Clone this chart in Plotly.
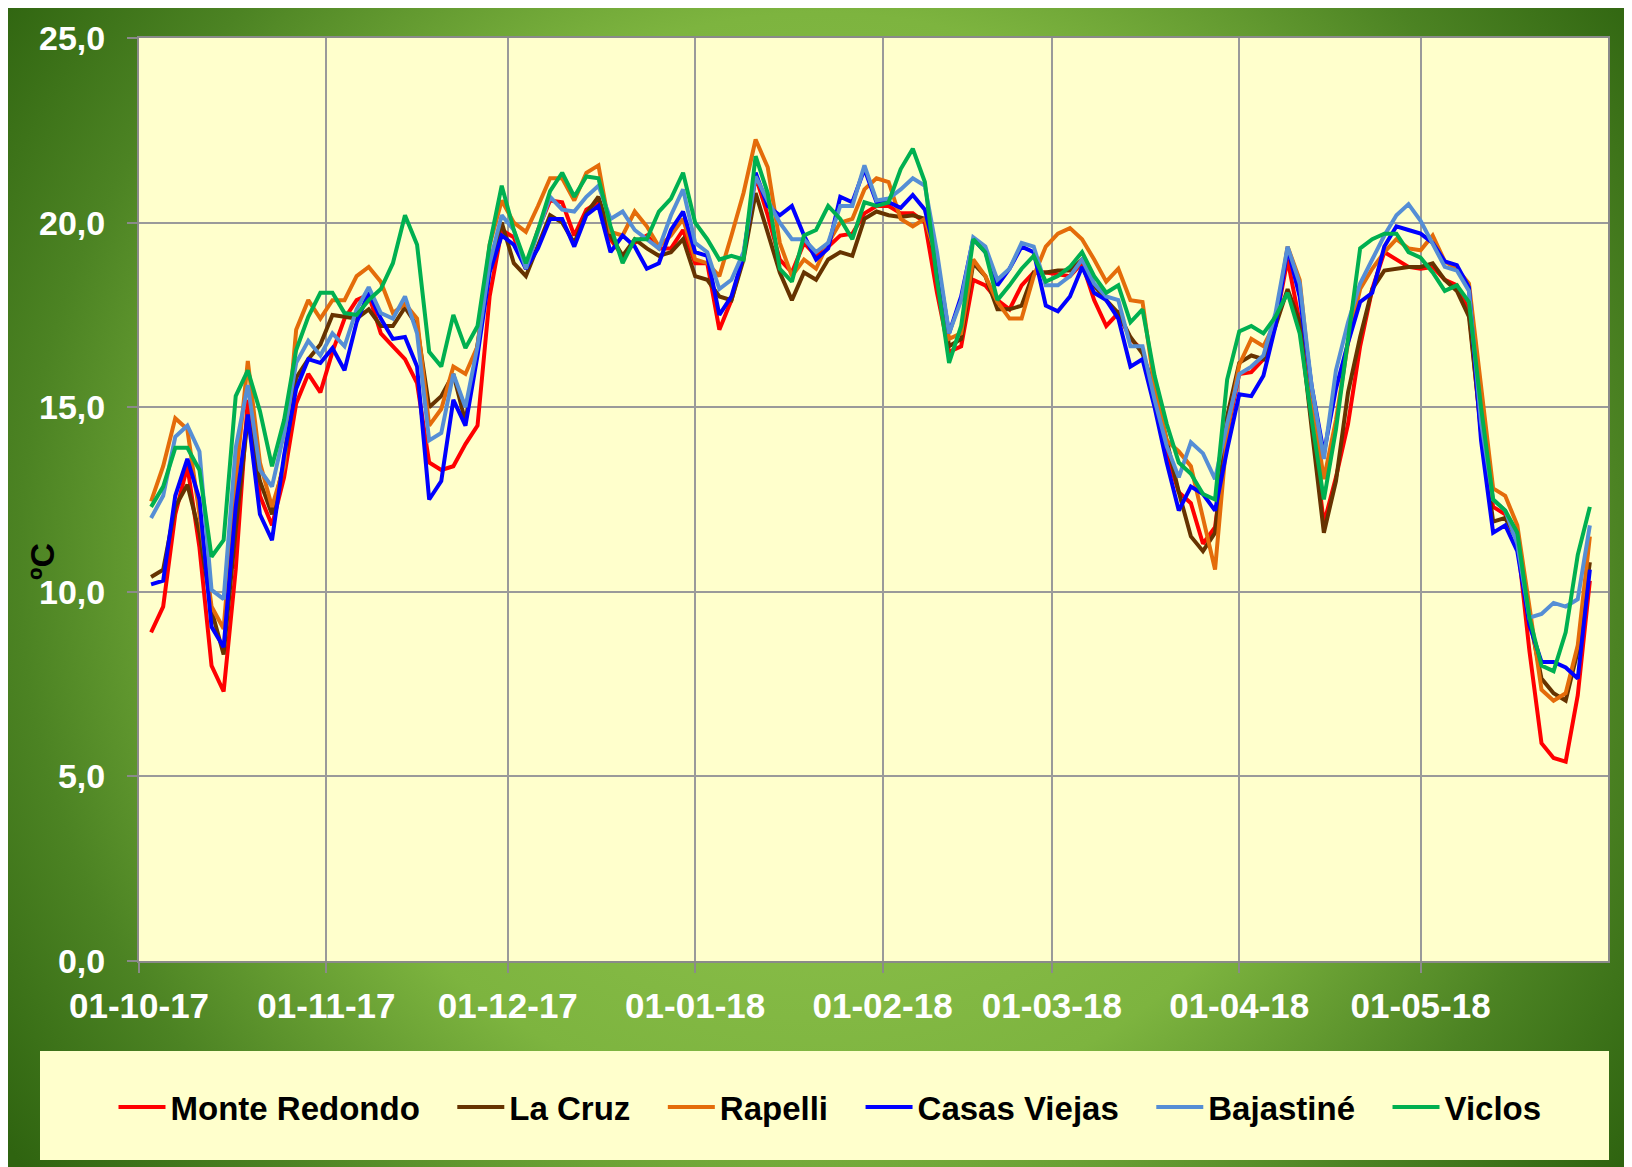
import base64
import pandas as pd
import plotly.graph_objects as go

# daily mean temperature, one reading every 2 days from 03-10-17 to 29-05-18
dates = pd.date_range("2017-10-03", periods=120, freq="2D")

monte_redondo = [
    8.9, 9.6, 12.1, 13.4, 11.2, 8.0, 7.3, 10.6, 15.2, 12.6, 11.8, 13.1, 15.1, 15.9, 15.4,
    16.5, 17.4, 17.9, 18.05, 17.0, 16.65, 16.3, 15.65, 13.5, 13.3, 13.4, 14.0, 14.5, 18.0, 19.8,
    19.6, 18.75, 19.8, 20.6, 20.55, 19.65, 20.35, 20.55, 19.55, 19.1, 19.45, 19.65, 19.3, 19.3, 19.8, 18.9,
    18.9, 17.1, 17.9, 19.1, 21.25, 20.2, 19.0, 18.65, 19.45, 19.1, 19.35, 19.65, 19.7, 20.25, 20.45,
    20.45, 20.25, 20.25, 20.0, 18.1, 16.5, 16.65, 18.45, 18.3, 17.9, 17.65, 18.3, 18.65, 18.65,
    18.6, 18.55, 18.9, 17.9, 17.2, 17.55, 16.85, 16.55, 15.2, 13.75, 12.7, 12.4, 11.3, 11.75, 14.3,
    15.9, 15.95, 16.3, 17.3, 19.0, 17.3, 14.5, 11.85, 13.1, 14.55, 16.65, 18.2, 19.2, 19.0, 18.8,
    18.75, 18.8, 18.45, 18.3, 17.6, 14.3, 12.3, 12.1, 11.4, 8.4, 5.9, 5.5, 5.4, 7.2, 10.3,
]
la_cruz = [
    10.4, 10.6, 12.3, 12.9, 11.6, 9.5, 8.3, 11.7, 14.7, 13.0, 12.1, 13.5, 15.8, 16.3, 16.7,
    17.5, 17.45, 17.4, 17.65, 17.2, 17.2, 17.7, 17.2, 15.0, 15.3, 15.9, 14.6, 16.65, 18.8, 20.0,
    18.9, 18.55, 19.4, 20.2, 20.0, 19.45, 20.25, 20.7, 19.65, 19.1, 19.55, 19.3, 19.1, 19.2, 19.55, 18.55,
    18.45, 18.0, 17.9, 19.0, 20.8, 19.7, 18.65, 17.9, 18.65, 18.45, 19.0, 19.2, 19.1, 20.1, 20.3,
    20.2, 20.15, 20.2, 20.1, 18.9, 16.65, 16.85, 18.9, 18.55, 17.65, 17.65, 17.75, 18.65, 18.65,
    18.7, 18.7, 19.0, 18.3, 17.9, 17.55, 16.9, 16.45, 15.5, 14.1, 12.7, 11.5, 11.1, 11.6, 14.75,
    16.2, 16.4, 16.3, 17.2, 18.2, 17.3, 14.4, 11.6, 13.0, 15.4, 16.9, 18.2, 18.7, 18.75, 18.8,
    18.8, 18.9, 18.45, 18.15, 17.45, 14.4, 11.9, 12.0, 11.4, 9.3, 7.65, 7.25, 7.05, 8.4, 10.8,
]
rapelli = [
    12.45, 13.4, 14.7, 14.4, 12.1, 9.6, 9.0, 13.0, 16.25, 13.5, 12.3, 13.4, 17.1, 17.9, 17.4,
    17.9, 17.9, 18.55, 18.8, 18.4, 17.55, 17.8, 17.4, 14.5, 14.95, 16.1, 15.9, 16.65, 19.4, 20.6,
    20.0, 19.75, 20.45, 21.2, 21.2, 20.6, 21.35, 21.55, 19.75, 19.65, 20.3, 19.9, 19.35, 19.65, 20.1, 19.0,
    18.9, 18.55, 19.65, 20.8, 22.25, 21.5, 19.45, 18.55, 19.0, 18.75, 19.45, 20.0, 20.1, 20.9, 21.2,
    21.1, 20.1, 19.9, 20.1, 19.0, 16.85, 17.0, 19.0, 18.55, 17.85, 17.4, 17.4, 18.55, 19.35,
    19.7, 19.85, 19.55, 19.0, 18.4, 18.75, 17.9, 17.85, 15.55, 14.1, 13.8, 13.4, 11.95, 10.6, 14.3,
    16.15, 16.85, 16.65, 17.3, 19.35, 18.45, 15.3, 13.05, 14.65, 16.75, 18.2, 18.75, 19.2, 19.55, 19.3,
    19.25, 19.65, 18.95, 18.75, 18.35, 15.6, 12.8, 12.6, 11.8, 9.6, 7.35, 7.05, 7.25, 8.55, 11.5,
]
casas_viejas = [
    10.2, 10.3, 12.6, 13.6, 12.5, 9.05, 8.5, 12.3, 14.8, 12.1, 11.4, 13.7, 15.5, 16.3, 16.2,
    16.6, 16.0, 17.3, 18.1, 17.4, 16.85, 16.9, 16.1, 12.5, 13.0, 15.2, 14.5, 16.4, 18.65, 19.65,
    19.4, 18.75, 19.3, 20.1, 20.1, 19.35, 20.2, 20.45, 19.2, 19.65, 19.35, 18.75, 18.9, 19.8, 20.3, 19.2,
    19.1, 17.5, 18.0, 19.1, 21.35, 20.45, 20.2, 20.45, 19.65, 19.0, 19.3, 20.7, 20.55, 21.45, 20.55,
    20.55, 20.4, 20.75, 20.35, 19.0, 17.0, 18.0, 19.55, 19.2, 18.3, 18.75, 19.35, 19.2, 17.75,
    17.6, 18.0, 18.8, 18.1, 17.9, 17.4, 16.1, 16.3, 15.0, 13.5, 12.2, 12.85, 12.65, 12.2, 13.85,
    15.35, 15.3, 15.85, 17.2, 19.3, 18.0, 15.55, 13.75, 15.5, 16.75, 17.85, 18.1, 19.35, 19.9, 19.8,
    19.7, 19.45, 18.95, 18.85, 18.25, 14.1, 11.6, 11.8, 11.1, 9.1, 8.1, 8.1, 7.95, 7.65, 10.6,
]
bajastine = [
    12.0, 12.6, 14.2, 14.5, 13.8, 10.05, 9.8, 13.9, 15.6, 13.3, 12.85, 14.3, 16.2, 16.8, 16.4,
    17.0, 16.65, 17.65, 18.25, 17.55, 17.4, 18.0, 17.0, 14.1, 14.3, 15.9, 15.0, 16.65, 18.9, 20.2,
    19.8, 18.75, 19.75, 20.7, 20.35, 20.3, 20.7, 21.0, 20.1, 20.3, 19.8, 19.55, 19.3, 20.2, 20.9, 19.45,
    19.2, 18.2, 18.45, 19.2, 21.25, 20.6, 20.0, 19.55, 19.55, 19.2, 19.45, 20.45, 20.45, 21.55, 20.6,
    20.65, 20.9, 21.2, 21.0, 19.2, 17.0, 17.9, 19.6, 19.35, 18.45, 18.75, 19.45, 19.35, 18.3,
    18.3, 18.55, 19.0, 18.35, 18.0, 17.9, 16.65, 16.65, 15.2, 13.95, 13.1, 14.05, 13.75, 13.05, 14.55,
    15.9, 16.1, 16.4, 17.55, 19.35, 18.35, 15.55, 13.6, 16.0, 17.3, 18.35, 19.0, 19.65, 20.2, 20.5,
    20.05, 19.45, 18.8, 18.7, 18.15, 14.6, 12.5, 12.2, 11.3, 9.3, 9.4, 9.7, 9.6, 9.8, 11.8,
]
viclos = [
    12.3, 12.85, 13.9, 13.9, 13.3, 10.95, 11.4, 15.3, 16.0, 14.9, 13.4, 14.65, 16.55, 17.45, 18.1,
    18.1, 17.55, 17.5, 17.9, 18.2, 18.9, 20.2, 19.4, 16.5, 16.1, 17.5, 16.6, 17.2, 19.4, 21.0,
    19.8, 18.9, 19.8, 20.85, 21.35, 20.7, 21.25, 21.2, 19.9, 18.9, 19.55, 19.55, 20.3, 20.65, 21.35, 20.0,
    19.55, 19.0, 19.1, 19.0, 21.8, 20.8, 18.75, 18.4, 19.65, 19.8, 20.45, 20.1, 19.55, 20.55, 20.45,
    20.55, 21.45, 22.0, 21.1, 18.45, 16.2, 17.2, 19.55, 19.2, 17.9, 18.3, 18.75, 19.1, 18.4,
    18.55, 18.8, 19.2, 18.55, 18.1, 18.3, 17.3, 17.65, 15.85, 14.55, 13.5, 13.2, 12.65, 12.5, 15.75,
    17.05, 17.2, 17.0, 17.45, 18.1, 17.0, 14.65, 12.5, 14.4, 16.9, 19.3, 19.55, 19.7, 19.7, 19.2,
    19.05, 18.65, 18.15, 18.3, 17.85, 15.0, 12.5, 12.2, 11.6, 9.3, 8.0, 7.85, 8.9, 11.0, 12.3,
]

names = ['Monte Redondo', 'La Cruz', 'Rapelli', 'Casas Viejas', 'Bajastiné', 'Viclos']
colors = ['#FF0000', '#663300', '#E46C0A', '#0000FF', '#558ED5', '#00B050']
series = [monte_redondo, la_cruz, rapelli, casas_viejas, bajastine, viclos]

month_ticks = ['2017-10-01', '2017-11-01', '2017-12-01', '2018-01-01',
               '2018-02-01', '2018-03-01', '2018-04-01', '2018-05-01']
month_labels = ['01-10-17', '01-11-17', '01-12-17', '01-01-18',
                '01-02-18', '01-03-18', '01-04-18', '01-05-18']

fig = go.Figure()
for i, (name, col, vals) in enumerate(zip(names, colors, series)):
    # a few no-break spaces widen the gap between legend entries
    label = name if i == len(names) - 1 else name + '\u00a0' * 3
    fig.add_trace(go.Scatter(x=dates, y=vals, name=label, mode='lines',
                             line=dict(color=col, width=4)))

W, H = 1624, 1159
L, R, T, B = 131, 24, 30, 206
pw, ph = W - L - R, H - T - B


def px_x(x):  # figure pixel -> paper
    return (x - L) / pw


def px_y(y):
    return (T + ph - y) / ph


# green gradient behind everything
svg = ("<svg xmlns='http://www.w3.org/2000/svg' width='1624' height='1159' "
       "viewBox='0 0 1624 1159' preserveAspectRatio='none'><defs>"
       "<radialGradient id='g' gradientUnits='userSpaceOnUse' cx='812' cy='555' r='1000'>"
       "<stop offset='0' stop-color='#9acb56'/><stop offset='0.55' stop-color='#7db43f'/>"
       "<stop offset='0.8' stop-color='#4c8323'/><stop offset='1' stop-color='#2f6410'/>"
       "</radialGradient></defs><rect width='1624' height='1159' fill='url(#g)'/></svg>")
bg_src = 'data:image/svg+xml;base64,' + base64.b64encode(svg.encode()).decode()

fig.add_layout_image(dict(source=bg_src, xref='paper', yref='paper',
                          x=px_x(0), y=px_y(0), sizex=W / pw, sizey=H / ph,
                          xanchor='left', yanchor='top', sizing='stretch', layer='below'))

# plot area fill (the image covers plot_bgcolor)
fig.add_shape(type='rect', xref='paper', yref='paper', x0=0, x1=1, y0=0, y1=1,
              fillcolor='#FFFFCC', line=dict(width=0), layer='below')

# legend box
fig.add_shape(type='rect', xref='paper', yref='paper',
              x0=px_x(32), x1=px_x(1601), y0=px_y(1152), y1=px_y(1043),
              fillcolor='#FFFFCC', line=dict(width=0), layer='below')

fig.add_annotation(text='<b>ºC</b>', xref='paper', yref='paper',
                   x=px_x(34), y=px_y(554), xanchor='center', yanchor='middle',
                   textangle=-90, showarrow=False, font=dict(size=34, color='black'))

fig.update_layout(
    width=W, height=H, margin=dict(l=L, r=R, t=T, b=B),
    paper_bgcolor='#3f7419', plot_bgcolor='#FFFFCC', separators=',.',
    font=dict(family='Liberation Sans, Arial', size=34, color='white'),
    legend=dict(orientation='h', x=px_x(822), xanchor='center',
                y=px_y(1099), yanchor='middle',
                bgcolor='rgba(0,0,0,0)', itemwidth=47,
                font=dict(size=33, color='black', weight='bold')),
)
fig.update_xaxes(type='date', range=['2017-10-01', '2018-06-01'],
                 tickvals=month_ticks, ticktext=month_labels,
                 tickfont=dict(size=35, color='white', weight='bold'),
                 showgrid=True, gridcolor='#9a9a9a', gridwidth=1.5,
                 showline=True, linecolor='#8a8a8a', linewidth=2, mirror=True,
                 ticks='outside', ticklen=10, tickwidth=2, tickcolor='#8a8a8a',
                 ticklabelstandoff=3, zeroline=False)
fig.update_yaxes(range=[0, 25], dtick=5, tickformat='.1f',
                 tickfont=dict(size=34, color='white', weight='bold'),
                 showgrid=True, gridcolor='#9a9a9a', gridwidth=1.5,
                 showline=True, linecolor='#8a8a8a', linewidth=2, mirror=True,
                 ticks='outside', ticklen=10, tickwidth=2, tickcolor='#8a8a8a',
                 ticklabelstandoff=15, zeroline=False)

fig.write_html("out.html")
